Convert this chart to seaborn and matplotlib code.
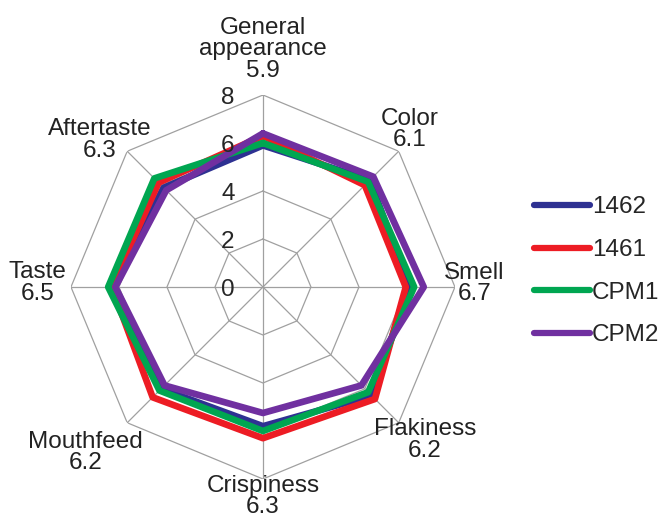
import numpy as np
import pandas as pd
import seaborn as sns
import matplotlib.pyplot as plt
import matplotlib.transforms as mtransforms
from matplotlib.lines import Line2D

attributes = ['General\nappearance', 'Color', 'Smell', 'Flakiness',
              'Crispiness', 'Mouthfeed', 'Taste', 'Aftertaste']
attr_means = ['5.9', '6.1', '6.7', '6.2', '6.3', '6.2', '6.5', '6.3']
samples = ['1462', '1461', 'CPM1', 'CPM2']
s1462 = [5.9, 6.3, 6.1, 6.4, 5.8, 6.0, 6.25, 5.85]
s1461 = [6.3, 6.0, 5.95, 6.6, 6.3, 6.5, 6.3, 6.15]
cpm1 = [6.0, 6.2, 6.3, 6.2, 6.0, 6.1, 6.45, 6.4]
cpm2 = [6.4, 6.5, 6.7, 5.8, 5.25, 5.8, 6.15, 5.7]
rings = [2, 4, 6, 8]

colors = ['#2e3192', '#ed1c24', '#00a651', '#7030a0']

sns.set_style('white')
plt.rcParams['font.family'] = ['Liberation Sans', 'DejaVu Sans']

n = len(attributes)
angles = np.linspace(0, 2 * np.pi, n, endpoint=False)

rows = []
for name, vals in zip(samples, [s1462, s1461, cpm1, cpm2]):
    for a, v in zip(list(angles) + [angles[0]], vals + [vals[0]]):
        rows.append({'theta': a, 'score': v, 'sample': name})
df = pd.DataFrame(rows)

fig = plt.figure(figsize=(6.67, 5.18), dpi=100)
ax = fig.add_axes([0.1064, 0.0753, 0.5757, 0.7413], projection='polar')
ax.set_theta_zero_location('N')
ax.set_theta_direction(-1)
ax.grid(False)
ax.spines['polar'].set_visible(False)

# octagon grid
ring_angles = list(angles) + [angles[0]]
for r in rings:
    ax.plot(ring_angles, [r] * (n + 1), color='#a0a0a0', lw=0.9, zorder=1)
for a in angles:
    ax.plot([a, a], [0, rings[-1]], color='#a0a0a0', lw=0.9, zorder=1)

sns.lineplot(data=df, x='theta', y='score', hue='sample', hue_order=samples,
             palette=colors, sort=False, estimator=None, lw=4.8,
             legend=False, ax=ax, zorder=3)

ax.set_ylim(0, 8)
ax.set_xticks([])
ax.set_yticks([])
ax.set_xlabel('')
ax.set_ylabel('')

# radial tick labels
off = mtransforms.offset_copy(ax.transData, fig=fig, x=-35, y=-3, units='dots')
for r in [0] + rings:
    ax.text(0, r, str(r), transform=off, ha='center', va='center', fontsize=17.5)

# category labels
label_r = [9.9, 8.95, 8.8, 9.28, 8.72, 10.1, 9.4, 9.15]
label_a = [0, 43, 89, 133.4, 180, 227, 271, 312]
for name, m, a, r in zip(attributes, attr_means, label_a, label_r):
    ax.text(np.deg2rad(a), r, name + '\n' + m, ha='center', va='center',
            fontsize=17.5, linespacing=0.95, color='#222222')

handles = [Line2D([0], [0], color=c, lw=4.5, solid_capstyle='round') for c in colors]
fig.legend(handles, samples, loc='center left', bbox_to_anchor=(0.7675, 0.476),
           frameon=False, fontsize=17.5, handlelength=2.3, handletextpad=0.1,
           labelspacing=0.85)

fig.savefig('out.png', dpi=100)
